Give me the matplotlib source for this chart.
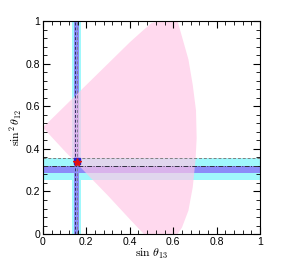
import matplotlib
matplotlib.use("Agg")
import matplotlib.pyplot as plt
from matplotlib.ticker import MultipleLocator

plt.rcParams['mathtext.fontset'] = 'cm'
plt.rcParams['font.family'] = ['Liberation Sans', 'DejaVu Sans']

# allowed region boundary (sin theta13, sin^2 theta12)
region_x = [0.0, 0.1, 0.2, 0.3, 0.4, 0.46, 0.5, 0.54, 0.62, 0.67, 0.69, 0.705,
            0.708, 0.703, 0.69, 0.67, 0.64, 0.62, 0.465, 0.4, 0.3, 0.2, 0.1, 0.0]
region_y = [0.5, 0.6, 0.7, 0.8, 0.9, 0.955, 0.99, 1.0, 1.0, 0.82, 0.7, 0.58,
            0.45, 0.35, 0.22, 0.11, 0.03, 0.0, 0.0, 0.07, 0.18, 0.285, 0.39, 0.5]

# experimental ranges
s13_3sigma = [0.134, 0.175]
s13_1sigma = [0.143, 0.164]
s12_3sigma = [0.254, 0.356]
s12_1sigma = [0.285, 0.319]
s13_lines = [0.147, 0.157]
s12_lines = [0.319, 0.355]
best_fit = (0.155, 0.343)

fig = plt.figure(figsize=(2.88, 2.66), dpi=100)
ax = fig.add_axes([0.149, 0.12, 0.754, 0.801])

ax.axvspan(*s13_3sigma, color='#a0f8fc', lw=0)
ax.axhspan(*s12_3sigma, color='#a0f8fc', lw=0)
ax.axvspan(*s13_1sigma, color='#8c8cf8', lw=0)
ax.axhspan(*s12_1sigma, color='#8c8cf8', lw=0)

ax.fill(region_x, region_y, color=(1.0, 0.78, 0.9), alpha=0.68, lw=0)

ax.axvline(s13_lines[0], color='#303060', lw=0.7, ls=(0, (3, 2)))
ax.axvline(s13_lines[1], color='#808090', lw=0.7, ls=(0, (3, 2)))
ax.axhline(s12_lines[0], color='#303040', lw=0.7, ls=(0, (5, 1.5, 1, 1.5)))
ax.axhline(s12_lines[1], color='#808080', lw=0.7, ls=(0, (3, 2)))

ax.plot(best_fit[0], best_fit[1], 's', color='#2020d0', ms=4)
ax.plot(best_fit[0], best_fit[1] - 0.005, '*', color='#e01010', ms=6)

ax.set_xlim(0, 1)
ax.set_ylim(0, 1)
ax.xaxis.set_major_locator(MultipleLocator(0.2))
ax.yaxis.set_major_locator(MultipleLocator(0.2))
ax.xaxis.set_minor_locator(MultipleLocator(0.04))
ax.yaxis.set_minor_locator(MultipleLocator(0.04))
ax.set_xticklabels(['0', '0.2', '0.4', '0.6', '0.8', '1'])
ax.set_xticks([0, 0.2, 0.4, 0.6, 0.8, 1])
ax.set_xticklabels(['0', '0.2', '0.4', '0.6', '0.8', '1'])
ax.set_yticks([0, 0.2, 0.4, 0.6, 0.8, 1])
ax.set_yticklabels(['0', '0.2', '0.4', '0.6', '0.8', '1'])
ax.tick_params(which='both', direction='in', top=True, right=True, labelsize=7.5, pad=2)
ax.tick_params(which='major', length=5, width=0.8)
ax.tick_params(which='minor', length=2.8, width=0.6)

ax.set_xlabel(r'$\sin\,\theta_{13}$', fontsize=8.5, labelpad=0)
ax.set_ylabel(r'$\sin^2\theta_{12}$', fontsize=8.5, labelpad=1)

fig.savefig('out.png', dpi=100)
